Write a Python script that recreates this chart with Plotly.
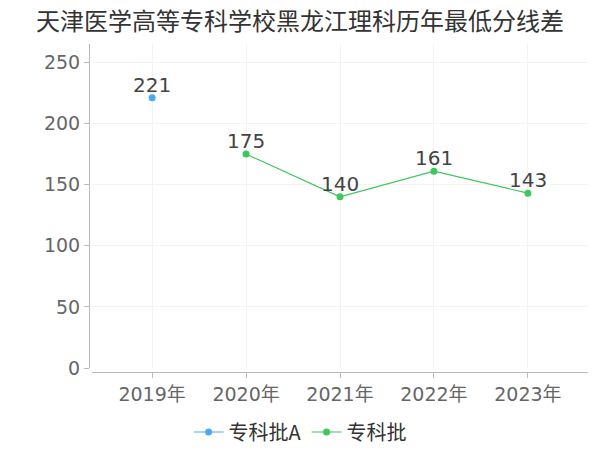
import plotly.graph_objects as go

# Données
annees = ['2019年', '2020年', '2021年', '2022年', '2023年']
zhuanke_a = [221, None, None, None, None]
zhuanke = [None, 175, 140, 161, 143]

police = "DejaVu Sans, Noto Sans CJK SC"
police_titre = "Noto Sans CJK SC"

fig = go.Figure()
fig.add_trace(go.Scatter(
    x=annees, y=zhuanke_a, name='专科批A',
    mode='lines+markers',
    line=dict(color='#4aa8f8', width=1.2),
    marker=dict(size=7, color='#4aa8f8'),
))
fig.add_trace(go.Scatter(
    x=annees, y=zhuanke, name='专科批',
    mode='lines+markers',
    line=dict(color='#3ec75a', width=1.2),
    marker=dict(size=7, color='#3ec75a'),
))

# Étiquettes de valeurs
for serie in (zhuanke_a, zhuanke):
    for a, v in zip(annees, serie):
        if v is None:
            continue
        fig.add_annotation(x=a, y=v, text=str(v), showarrow=False,
                           yanchor='bottom', yshift=-1,
                           font=dict(size=20, color='#444444', family=police))

# la page ajoute 8 px de marge au body -> figure 592x442
fig.update_layout(
    width=592, height=442,
    margin=dict(l=81, r=12, t=36, b=78, autoexpand=False),
    paper_bgcolor='white', plot_bgcolor='white',
    font=dict(family=police, color='#666666'),
    title=dict(text='天津医学高等专科学校黑龙江理科历年最低分线差',
               x=292 / 592, xanchor='center', y=1 - 14 / 442, yanchor='middle',
               font=dict(size=24, color='#333333', family=police_titre)),
    showlegend=True,
    legend=dict(orientation='h', x=0.423, xanchor='center', y=-0.183, yanchor='middle',
                font=dict(size=20, color='#333333', family=police_titre),
                itemwidth=30, tracegroupgap=0),
    xaxis=dict(
        domain=[3 / 499, 1], anchor='free', position=0,
        range=[-0.64, 4.64], automargin=False,
        showline=True, linecolor='#bbbbbb', linewidth=1,
        ticks='outside', ticklen=5, tickcolor='#bbbbbb',
        showgrid=True, gridcolor='#f3f3f3',
        tickfont=dict(size=19, color='#666666'),
        zeroline=False,
    ),
    yaxis=dict(
        domain=[4 / 328, 1], anchor='free', position=0,
        range=[0, 265], automargin=False,
        tickvals=[0, 50, 100, 150, 200, 250],
        showline=True, linecolor='#bbbbbb', linewidth=1,
        ticks='outside', ticklen=5, tickcolor='#bbbbbb',
        showgrid=True, gridcolor='#f3f3f3',
        tickfont=dict(size=19, color='#666666'),
        zeroline=False,
    ),
)

fig.write_html("out.html")
